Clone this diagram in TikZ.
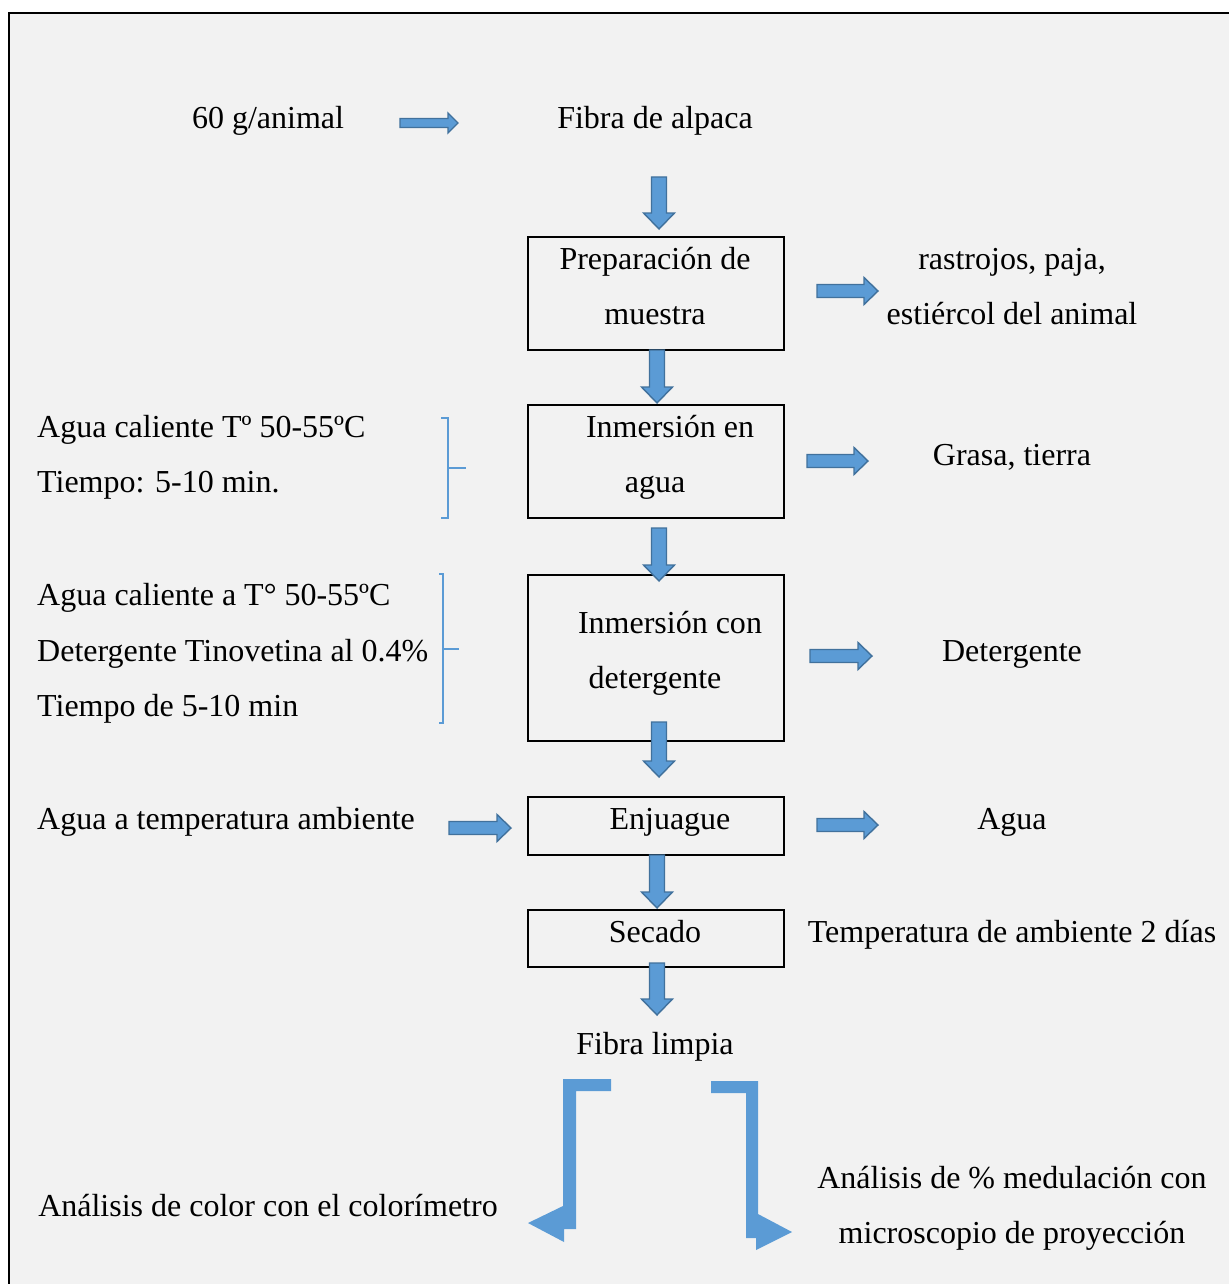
\documentclass[tikz,border=0pt]{standalone}
\usepackage{fontspec}
\setmainfont{Liberation Serif}
\usetikzlibrary{calc}
\definecolor{bgray}{HTML}{F2F2F2}
\definecolor{ablue}{HTML}{5B9BD5}
\definecolor{adark}{HTML}{41719C}
% right-pointing block arrow: start, end, shaft half, head half, head length
\newcommand{\rarrow}[5]{\filldraw[barrow] ($(#1)+(0,#3)$) -- ($(#2)+(-#5,#3)$) -- ($(#2)+(-#5,#4)$) -- (#2) -- ($(#2)+(-#5,-#4)$) -- ($(#2)+(-#5,-#3)$) -- ($(#1)+(0,-#3)$) -- cycle;}
% down-pointing block arrow
\newcommand{\darrow}[5]{\filldraw[barrow] ($(#1)+(#3,0)$) -- ($(#2)+(#3,-#5)$) -- ($(#2)+(#4,-#5)$) -- (#2) -- ($(#2)+(-#4,-#5)$) -- ($(#2)+(-#3,-#5)$) -- ($(#1)+(-#3,0)$) -- cycle;}
\begin{document}
\begin{tikzpicture}[x=1pt,y=-1pt, font=\fontsize{32}{38}\selectfont,
 txt/.style={inner sep=0pt, anchor=base, yshift=-1.5pt},
 txtl/.style={inner sep=0pt, anchor=base west, yshift=-1.5pt},
 stepbox/.style={draw=black, line width=1.4pt, inner sep=0pt, minimum width=256pt},
 barrow/.style={fill=ablue, draw=adark, line width=1.4pt, line join=miter},
 bent/.style={fill=ablue, draw=none},
 bracket/.style={draw=ablue, line width=2.8pt}]
\useasboundingbox (0,0) rectangle (1229,1284);
\fill[white] (0,0) rectangle (1229,1284);
\fill[bgray] (9,13) rectangle (1229,1284);
\draw[line width=2.5pt] (9,1284) -- (9,13) -- (1229,13);

% boxes
\node[stepbox, minimum height=113pt] (box1) at (656,293.5) {};
\node[stepbox, minimum height=113pt] (box2) at (656,461.5) {};
\node[stepbox, minimum height=166pt] (box3) at (656,658) {};
\node[stepbox, minimum height=58pt] (box4) at (656,826) {};
\node[stepbox, minimum height=57pt] (box5) at (656,938.5) {};

% texts
\node[txt] (t60) at (268,127) {60 g/animal};
\node[txt] (fibra) at (655,127) {Fibra de alpaca};
\node[txt] (b1a) at (655,268) {Preparación de};
\node[txt] (b1b) at (655,323) {muestra};
\node[txt] (b2a) at (670,436) {Inmersión en};
\node[txt] (b2b) at (655,491) {agua};
\node[txt] (b3a) at (670,632) {Inmersión con};
\node[txt] (b3b) at (655,687) {detergente};
\node[txt] (b4) at (670,828) {Enjuague};
\node[txt] (b5) at (655,941) {Secado};
\node[txt] (limpia) at (655,1053) {Fibra limpia};

\node[txt] (r1a) at (1012,268) {rastrojos, paja,};
\node[txt] (r1b) at (1012,323) {estiércol del animal};
\node[txt] (r2) at (1012,464) {Grasa, tierra};
\node[txt] (r3) at (1012,660) {Detergente};
\node[txt] (r4) at (1012,828) {Agua};
\node[txt] (r5) at (1012,941) {Temperatura de ambiente 2 días};

\node[txtl] (l1a) at (37,436) {Agua caliente Tº 50-55ºC};
\node[txtl] (l1b) at (37,491) {Tiempo: 5-10 min.};
\node[txtl] (l2a) at (37,604) {Agua caliente a T° 50-55ºC};
\node[txtl] (l2b) at (37,660) {Detergente Tinovetina al 0.4\%};
\node[txtl] (l2c) at (37,715) {Tiempo de 5-10 min};
\node[txtl] (l4) at (37,828) {Agua a temperatura ambiente};

\node[txt] (an1) at (268,1215) {Análisis de color con el colorímetro};
\node[txt] (an2a) at (1012,1187) {Análisis de \% medulación con};
\node[txt] (an2b) at (1012,1242) {microscopio de proyección};

% arrow end points
\coordinate (h0s) at (400,123); \coordinate (h0e) at (458,123);
\coordinate (h1s) at (817,291); \coordinate (h1e) at (878,291);
\coordinate (h2s) at (807,461); \coordinate (h2e) at (868,461);
\coordinate (h3s) at (810,656); \coordinate (h3e) at (872,656);
\coordinate (h4s) at (817,825); \coordinate (h4e) at (878,825);
\coordinate (hls) at (449,828); \coordinate (hle) at (511,828);
\coordinate (v0s) at (659,177); \coordinate (v0e) at (659,229);
\coordinate (v1s) at (657,350); \coordinate (v1e) at (657,403);
\coordinate (v2s) at (659,528); \coordinate (v2e) at (659,581);
\coordinate (v3s) at (659,722); \coordinate (v3e) at (659,777);
\coordinate (v4s) at (657,855); \coordinate (v4e) at (657,908);
\coordinate (v5s) at (657,963); \coordinate (v5e) at (657,1015);

\rarrow{h0s}{h0e}{4.5}{10}{10}
\rarrow{h1s}{h1e}{6.5}{13.5}{14}
\rarrow{h2s}{h2e}{6.5}{13.5}{14}
\rarrow{h3s}{h3e}{6.5}{13.5}{14}
\rarrow{h4s}{h4e}{6.5}{13.5}{14}
\rarrow{hls}{hle}{6.5}{13.5}{14}
\darrow{v0s}{v0e}{7.5}{15.5}{16}
\darrow{v1s}{v1e}{7.5}{15.5}{16}
\darrow{v2s}{v2e}{7.5}{15.5}{16}
\darrow{v3s}{v3e}{7.5}{15.5}{16}
\darrow{v4s}{v4e}{7.5}{15.5}{16}
\darrow{v5s}{v5e}{7.5}{15.5}{16}

% brackets
\draw[bracket] (441,418) -- (448,418) -- (448,518) -- (441,518);
\draw[bracket] (448,468) -- (466,468);
\draw[bracket] (439,574) -- (443,574) -- (443,723) -- (439,723);
\draw[bracket] (443,649) -- (459,649);

% bent arrows
\fill[bent] (611,1079) -- (563,1079) -- (563,1206) -- (528,1223) -- (564,1242) -- (564,1229) -- (576,1229) -- (576,1091) -- (611,1091) -- cycle;
\fill[bent] (711,1081) -- (758,1081) -- (758,1214) -- (792,1232) -- (756,1250) -- (756,1238) -- (746,1238) -- (746,1093) -- (711,1093) -- cycle;
\end{tikzpicture}
\end{document}
